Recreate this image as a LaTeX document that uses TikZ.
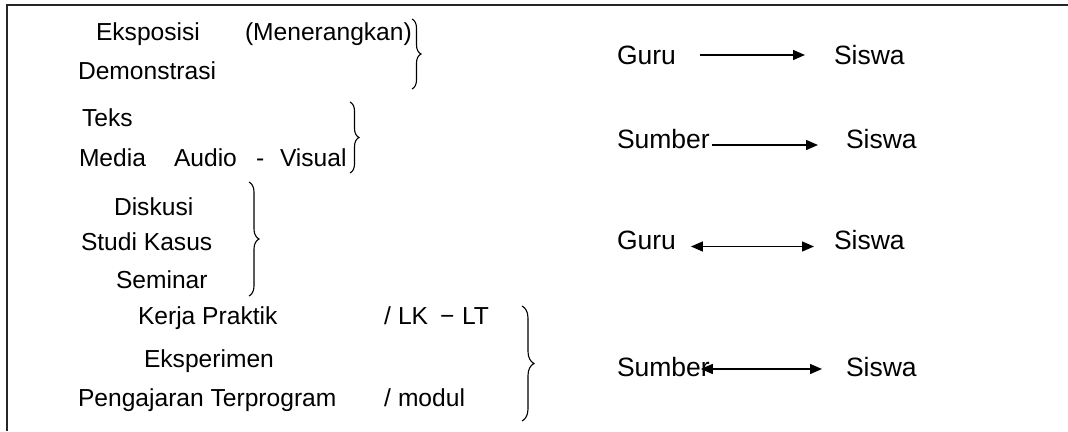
\documentclass[tikz,border=0pt]{standalone}
\usepackage{fontspec}
\setmainfont{Liberation Sans}
\usetikzlibrary{arrows.meta,calc,decorations.pathreplacing}
\begin{document}
\begin{tikzpicture}[x=1pt,y=-1pt,
  txt/.style={inner sep=0pt, outer sep=0pt, anchor=base west, font=\fontsize{24.6}{29}\selectfont},
  rtxt/.style={inner sep=0pt, outer sep=0pt, anchor=base west, font=\fontsize{26.5}{31}\selectfont},
  arr/.style={line width=1.4pt, -{Triangle[length=12pt,width=10pt]}},
  darr/.style={line width=1.4pt, {Triangle[length=12pt,width=10pt]}-{Triangle[length=12pt,width=10pt]}},
  brc/.style={line width=1.1pt, decorate, decoration={brace, amplitude=#1}},
  frame/.style={line width=1.6pt, draw=black!85}]
\useasboundingbox (0,0) rectangle (1068,431);
\draw[frame] (7,431) -- (7,5) -- (1068,5);

% group 1
\node[txt] (eks) at (96,40) {Eksposisi};
\node[txt] (men) at (245,40) {(Menerangkan)};
\node[txt] (dem) at (78,79) {Demonstrasi};
\draw[brc=9pt] (412,19) -- (412,89);

% group 2
\node[txt] (teks) at (82,126) {Teks};
\node[txt] (med) at (79,166) {Media};
\node[txt] (aud) at (174,166) {Audio};
\node[txt] (dash) at (256,166) {-};
\node[txt] (vis) at (280,166) {Visual};
\draw[brc=9pt] (350,102) -- (350,173);

% group 3
\node[txt] (dis) at (114,215) {Diskusi};
\node[txt] (stu) at (81,250) {Studi Kasus};
\node[txt] (sem) at (116,288) {Seminar};
\draw[brc=10pt] (249,182) -- (249,296);

% group 4
\node[txt] (ker) at (138,324) {Kerja Praktik};
\node[txt] (sl1) at (384,324) {/};
\node[txt] (lk) at (398,324) {LK};
\node[txt] (mn) at (440,324) {\char"2212};
\node[txt] (lt) at (462,324) {LT};
\node[txt] (eksp) at (144,367) {Eksperimen};
\node[txt] (pen) at (78,406) {Pengajaran Terprogram};
\node[txt] (sl2) at (384,406) {/};
\node[txt] (mod) at (398,406) {modul};
\draw[brc=12pt] (522,306) -- (522,421);

% right side
\node[rtxt] (g1) at (617,64) {Guru};
\node[rtxt] (s1) at (834,64) {Siswa};
\draw[arr] ($(g1.base east)+(24,-9)$) -- ($(s1.base west)+(-29,-9)$);

\node[rtxt] (sb2) at (617,148) {Sumber};
\node[rtxt] (s2) at (846,148) {Siswa};
\draw[arr] ($(sb2.base east)+(2,-3)$) -- ($(s2.base west)+(-28,-3)$);

\node[rtxt] (g3) at (617,249) {Guru};
\node[rtxt] (s3) at (834,249) {Siswa};
\draw[darr] ($(g3.base east)+(15,-2.5)$) -- ($(s3.base west)+(-20,-2.5)$);

\node[rtxt] (sb4) at (617,376) {Sumber};
\node[rtxt] (s4) at (846,376) {Siswa};
\draw[darr] ($(sb4.base east)+(-9,-7)$) -- ($(s4.base west)+(-24,-7)$);
\end{tikzpicture}
\end{document}
